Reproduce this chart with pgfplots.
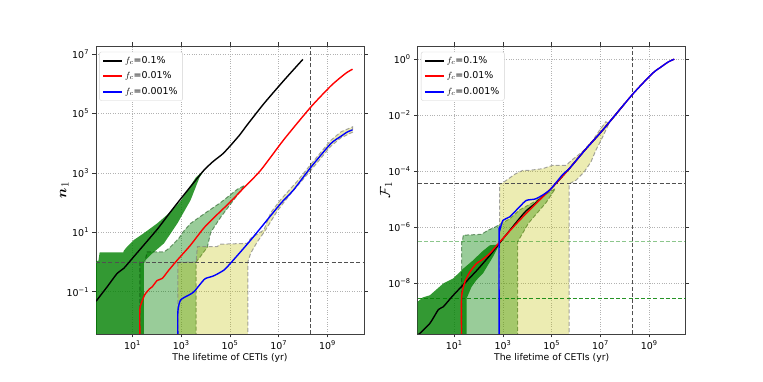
\documentclass[border=0pt]{standalone}
\usepackage{amsmath}
\usepackage{fontspec}
\setmainfont{DejaVu Sans}
\usepackage{pgfplots}
\pgfplotsset{compat=1.18}

% matplotlib-ish colours
\definecolor{mgreen}{RGB}{0,128,0}
\definecolor{myellow}{RGB}{191,191,0}
\definecolor{mgray}{RGB}{80,80,80}
\definecolor{mblue}{RGB}{0,0,255}
\definecolor{mred}{RGB}{255,0,0}

% values are log10 of lifetime (x) and of n_1 / F_1 (y)
\pgfplotsset{
  ceti/.style={
    scale only axis, width=268bp, height=288bp,
    xmin=-0.5, xmax=10.5,
    xtick={1,3,5,7,9},
    xticklabels={10\textsuperscript{1},10\textsuperscript{3},10\textsuperscript{5},10\textsuperscript{7},10\textsuperscript{9}},
    tick align=outside, major tick length=3.5bp,
    tick style={black!80, line width=0.8bp},
    axis line style={black!75, line width=0.8bp},
    grid=major, grid style={dotted, gray!60, line width=0.6bp},
    tick label style={font=\fontsize{9.5}{11}\selectfont},
    xlabel={The lifetime of CETIs (yr)},
    xlabel style={font=\fontsize{9.3}{11}\selectfont, at={(axis description cs:0.5,-0.083)}, anchor=center},
    ylabel style={font=\fontsize{15}{17}\selectfont, at={(axis description cs:-0.118,0.5)}, anchor=center},
    legend style={at={(0.012,0.98)}, anchor=north west, draw=gray!35, rounded corners=2bp,
      fill=white, font=\fontsize{9.5}{10}\selectfont,
      inner xsep=3bp, inner ysep=2.5bp, row sep=3bp},
    legend cell align=left,
    legend image code/.code={\draw[#1, line width=1.7bp] (0bp,0bp) -- (19bp,0bp);},
  },
  refline/.style={forget plot, mgray, line width=1.1bp, dash pattern=on 4bp off 2.2bp},
  dline/.style={line width=1.4bp, smooth, tension=0.4},
}

\begin{document}
\begin{tikzpicture}
\path[use as bounding box] (0,0) rectangle (763bp,382bp);

% ---------------- left: n_1 ----------------
\begin{axis}[ceti, at={(96bp,48bp)}, anchor=south west,
  ymin=-2.42, ymax=7.27,
  ytick={-1,1,3,5,7},
  yticklabels={10\textsuperscript{−1},10\textsuperscript{1},10\textsuperscript{3},10\textsuperscript{5},10\textsuperscript{7}},
  ylabel={$\boldsymbol{n}_{1}$}]

\addplot[forget plot, fill=mgreen, fill opacity=0.8, draw=none] coordinates {
 (-0.5,-2.5) (1.46,-2.5) (1.46,0.0) (1.74,0.24) (2.29,0.63) (2.84,1.30) (3.38,2.08)
 (3.75,2.85) (3.95,3.10) (3.60,2.85) (2.97,2.05) (2.56,1.69) (2.01,1.30) (1.46,0.97)
 (1.05,0.74) (0.78,0.52) (0.64,0.38) (0.62,0.33) (-0.35,0.33) (-0.40,0.04) (-0.5,0.04)} -- cycle;

\addplot[forget plot, fill=mgreen, fill opacity=0.4, draw=mgreen!50!black, draw opacity=0.5,
  dash pattern=on 4bp off 2.2bp, line width=1bp] coordinates {
 (1.30,-2.5) (3.61,-2.5) (3.61,0.0) (3.79,0.19) (4.07,0.50) (4.21,1.00) (4.61,1.50)
 (5.30,2.25) (5.60,2.58) (5.30,2.45) (4.61,2.00) (3.93,1.62) (3.38,1.30) (3.11,1.05)
 (2.90,0.80) (2.70,0.63) (2.49,0.46) (2.29,0.34) (1.60,0.34) (1.50,0.0) (1.30,0.0)} -- cycle;

\addplot[forget plot, fill=myellow, fill opacity=0.3, draw=gray, draw opacity=0.7,
  dash pattern=on 4bp off 2.2bp, line width=1bp] coordinates {
 (2.86,-2.5) (5.73,-2.5) (5.73,0.0) (5.85,0.30) (6.12,0.68) (6.46,1.08) (6.94,1.72)
 (7.49,2.30) (8.31,3.08) (9.13,3.89) (9.55,4.18) (10.03,4.37) (10.03,4.55) (9.55,4.38)
 (9.13,4.09) (8.31,3.28) (7.76,2.72) (7.08,2.10) (6.67,1.66) (6.39,1.08) (5.85,0.80)
 (5.71,0.63) (4.61,0.60) (4.47,0.52) (3.66,0.52) (3.61,0.0) (2.86,0.0)} -- cycle;

\addplot[refline] coordinates {(-0.5,0) (10.5,0)};
\addplot[refline] coordinates {(8.30,-2.42) (8.30,7.27)};

\addplot[black, dline] coordinates {
 (-0.50,-1.32) (-0.04,-0.83) (0.37,-0.38) (0.64,-0.21) (1.05,0.18) (2.01,1.10) (2.56,1.69)
 (3.00,2.15) (3.52,2.68) (3.93,3.09) (4.30,3.38) (4.70,3.64) (5.02,3.92) (5.40,4.28)
 (5.71,4.62) (6.39,5.33) (7.21,6.11) (7.99,6.82)};
\addlegendentry{$f_c$=0.1\%}
\addplot[mred, dline] coordinates {
 (1.30,-2.5) (1.30,-1.60) (1.36,-1.39) (1.50,-1.10) (1.70,-0.90) (1.81,-0.83) (2.01,-0.62)
 (2.22,-0.55) (2.49,-0.27) (2.84,0.07) (3.38,0.57) (3.93,1.15) (4.50,1.62) (5.02,2.03)
 (5.50,2.44) (6.26,3.09) (7.21,4.12) (8.31,5.21) (9.13,5.92) (9.55,6.22) (9.80,6.38) (10.03,6.49)};
\addlegendentry{$f_c$=0.01\%}
\addplot[mblue, dline] coordinates {
 (2.86,-2.5) (2.86,-1.67) (2.97,-1.28) (3.31,-1.11) (3.52,-1.00) (3.86,-0.66) (4.00,-0.55)
 (4.34,-0.46) (4.75,-0.27) (5.02,-0.04) (5.85,0.74) (7.08,1.97) (7.60,2.42) (8.31,3.18)
 (9.13,3.98) (9.55,4.23) (9.80,4.37) (10.03,4.45)};
\addlegendentry{$f_c$=0.001\%}
\end{axis}

% ---------------- right: F_1 ----------------
\begin{axis}[ceti, at={(417.7bp,48bp)}, anchor=south west,
  ymin=-9.8, ymax=0.46,
  ytick={-8,-6,-4,-2,0},
  yticklabels={10\textsuperscript{−8},10\textsuperscript{−6},10\textsuperscript{−4},10\textsuperscript{−2},10\textsuperscript{0}},
  ylabel={$\mathcal{F}_{1}$}]

\addplot[forget plot, fill=mgreen, fill opacity=0.8, draw=none] coordinates {
 (-0.5,-9.9) (1.51,-9.9) (1.51,-8.53) (1.71,-8.12) (1.91,-7.88) (2.18,-7.64) (2.59,-7.05)
 (2.87,-6.58) (2.70,-6.62) (2.46,-6.64) (2.12,-6.88) (1.78,-7.17) (1.37,-7.47) (0.96,-7.82)
 (0.55,-8.00) (0.00,-8.42) (-0.30,-8.50) (-0.5,-8.65)} -- cycle;

\addplot[forget plot, fill=mgreen, fill opacity=0.4, draw=mgreen!50!black, draw opacity=0.5,
  dash pattern=on 4bp off 2.2bp, line width=1bp] coordinates {
 (1.30,-9.9) (3.60,-9.9) (3.60,-6.52) (4.05,-5.85) (4.77,-5.12) (5.15,-4.62) (4.91,-4.74)
 (4.36,-5.05) (3.68,-5.38) (3.27,-5.70) (2.93,-5.86) (2.66,-6.00) (2.39,-6.10) (2.12,-6.25)
 (1.37,-6.28) (1.33,-6.52) (1.30,-6.52)} -- cycle;

\addplot[forget plot, fill=myellow, fill opacity=0.3, draw=gray, draw opacity=0.7,
  dash pattern=on 4bp off 2.2bp, line width=1bp] coordinates {
 (2.86,-9.9) (5.72,-9.9) (5.72,-4.45) (6.00,-4.32) (6.33,-4.03) (6.61,-3.67) (6.81,-3.26)
 (7.08,-2.80) (7.35,-2.30) (7.22,-2.24) (6.95,-2.56) (6.67,-2.92) (6.27,-3.30) (5.86,-3.58)
 (5.59,-3.79) (5.04,-3.79) (4.63,-3.91) (4.09,-3.97) (3.82,-3.97) (3.50,-4.10) (2.95,-4.44)
 (2.86,-4.44)} -- cycle;

\addplot[refline] coordinates {(-0.5,-4.44) (10.5,-4.44)};
\addplot[forget plot, mgreen, opacity=0.45, line width=1.1bp, dash pattern=on 4bp off 2.2bp]
  coordinates {(-0.5,-6.52) (10.5,-6.52)};
\addplot[forget plot, mgreen, opacity=0.85, line width=1.1bp, dash pattern=on 4bp off 2.2bp]
  coordinates {(-0.5,-8.52) (10.5,-8.52)};
\addplot[refline] coordinates {(8.30,-9.8) (8.30,0.46)};

\addplot[black, dline] coordinates {
 (-0.50,-9.85) (0.00,-9.42) (0.35,-8.93) (0.55,-8.83) (0.96,-8.42) (1.91,-7.55) (2.46,-7.00)
 (2.87,-6.55) (3.52,-5.85) (3.93,-5.43) (4.36,-5.12) (5.04,-4.56) (5.71,-3.92) (6.39,-3.22)
 (7.08,-2.55) (7.99,-1.60)};
\addlegendentry{$f_c$=0.1\%}
\addplot[mred, dline] coordinates {
 (1.30,-9.9) (1.30,-8.48) (1.44,-7.94) (1.64,-7.59) (1.91,-7.29) (2.12,-7.17) (2.46,-6.93)
 (2.87,-6.52) (3.68,-5.75) (4.36,-5.15) (5.04,-4.56) (5.71,-3.92) (6.39,-3.22) (7.08,-2.55)
 (8.31,-1.27) (9.13,-0.52) (9.50,-0.28) (9.80,-0.10) (10.03,-0.01)};
\addlegendentry{$f_c$=0.01\%}
\addplot[mblue, dline] coordinates {
 (2.84,-9.9) (2.84,-6.22) (2.87,-6.10) (3.00,-5.75) (3.27,-5.63) (3.68,-5.27) (3.96,-5.04)
 (4.36,-4.98) (4.91,-4.68) (5.45,-4.12) (5.71,-3.92) (6.39,-3.22) (7.08,-2.55)
 (8.31,-1.27) (9.13,-0.52) (9.50,-0.28) (9.80,-0.10) (10.03,-0.01)};
\addlegendentry{$f_c$=0.001\%}
\end{axis}
\end{tikzpicture}
\end{document}
